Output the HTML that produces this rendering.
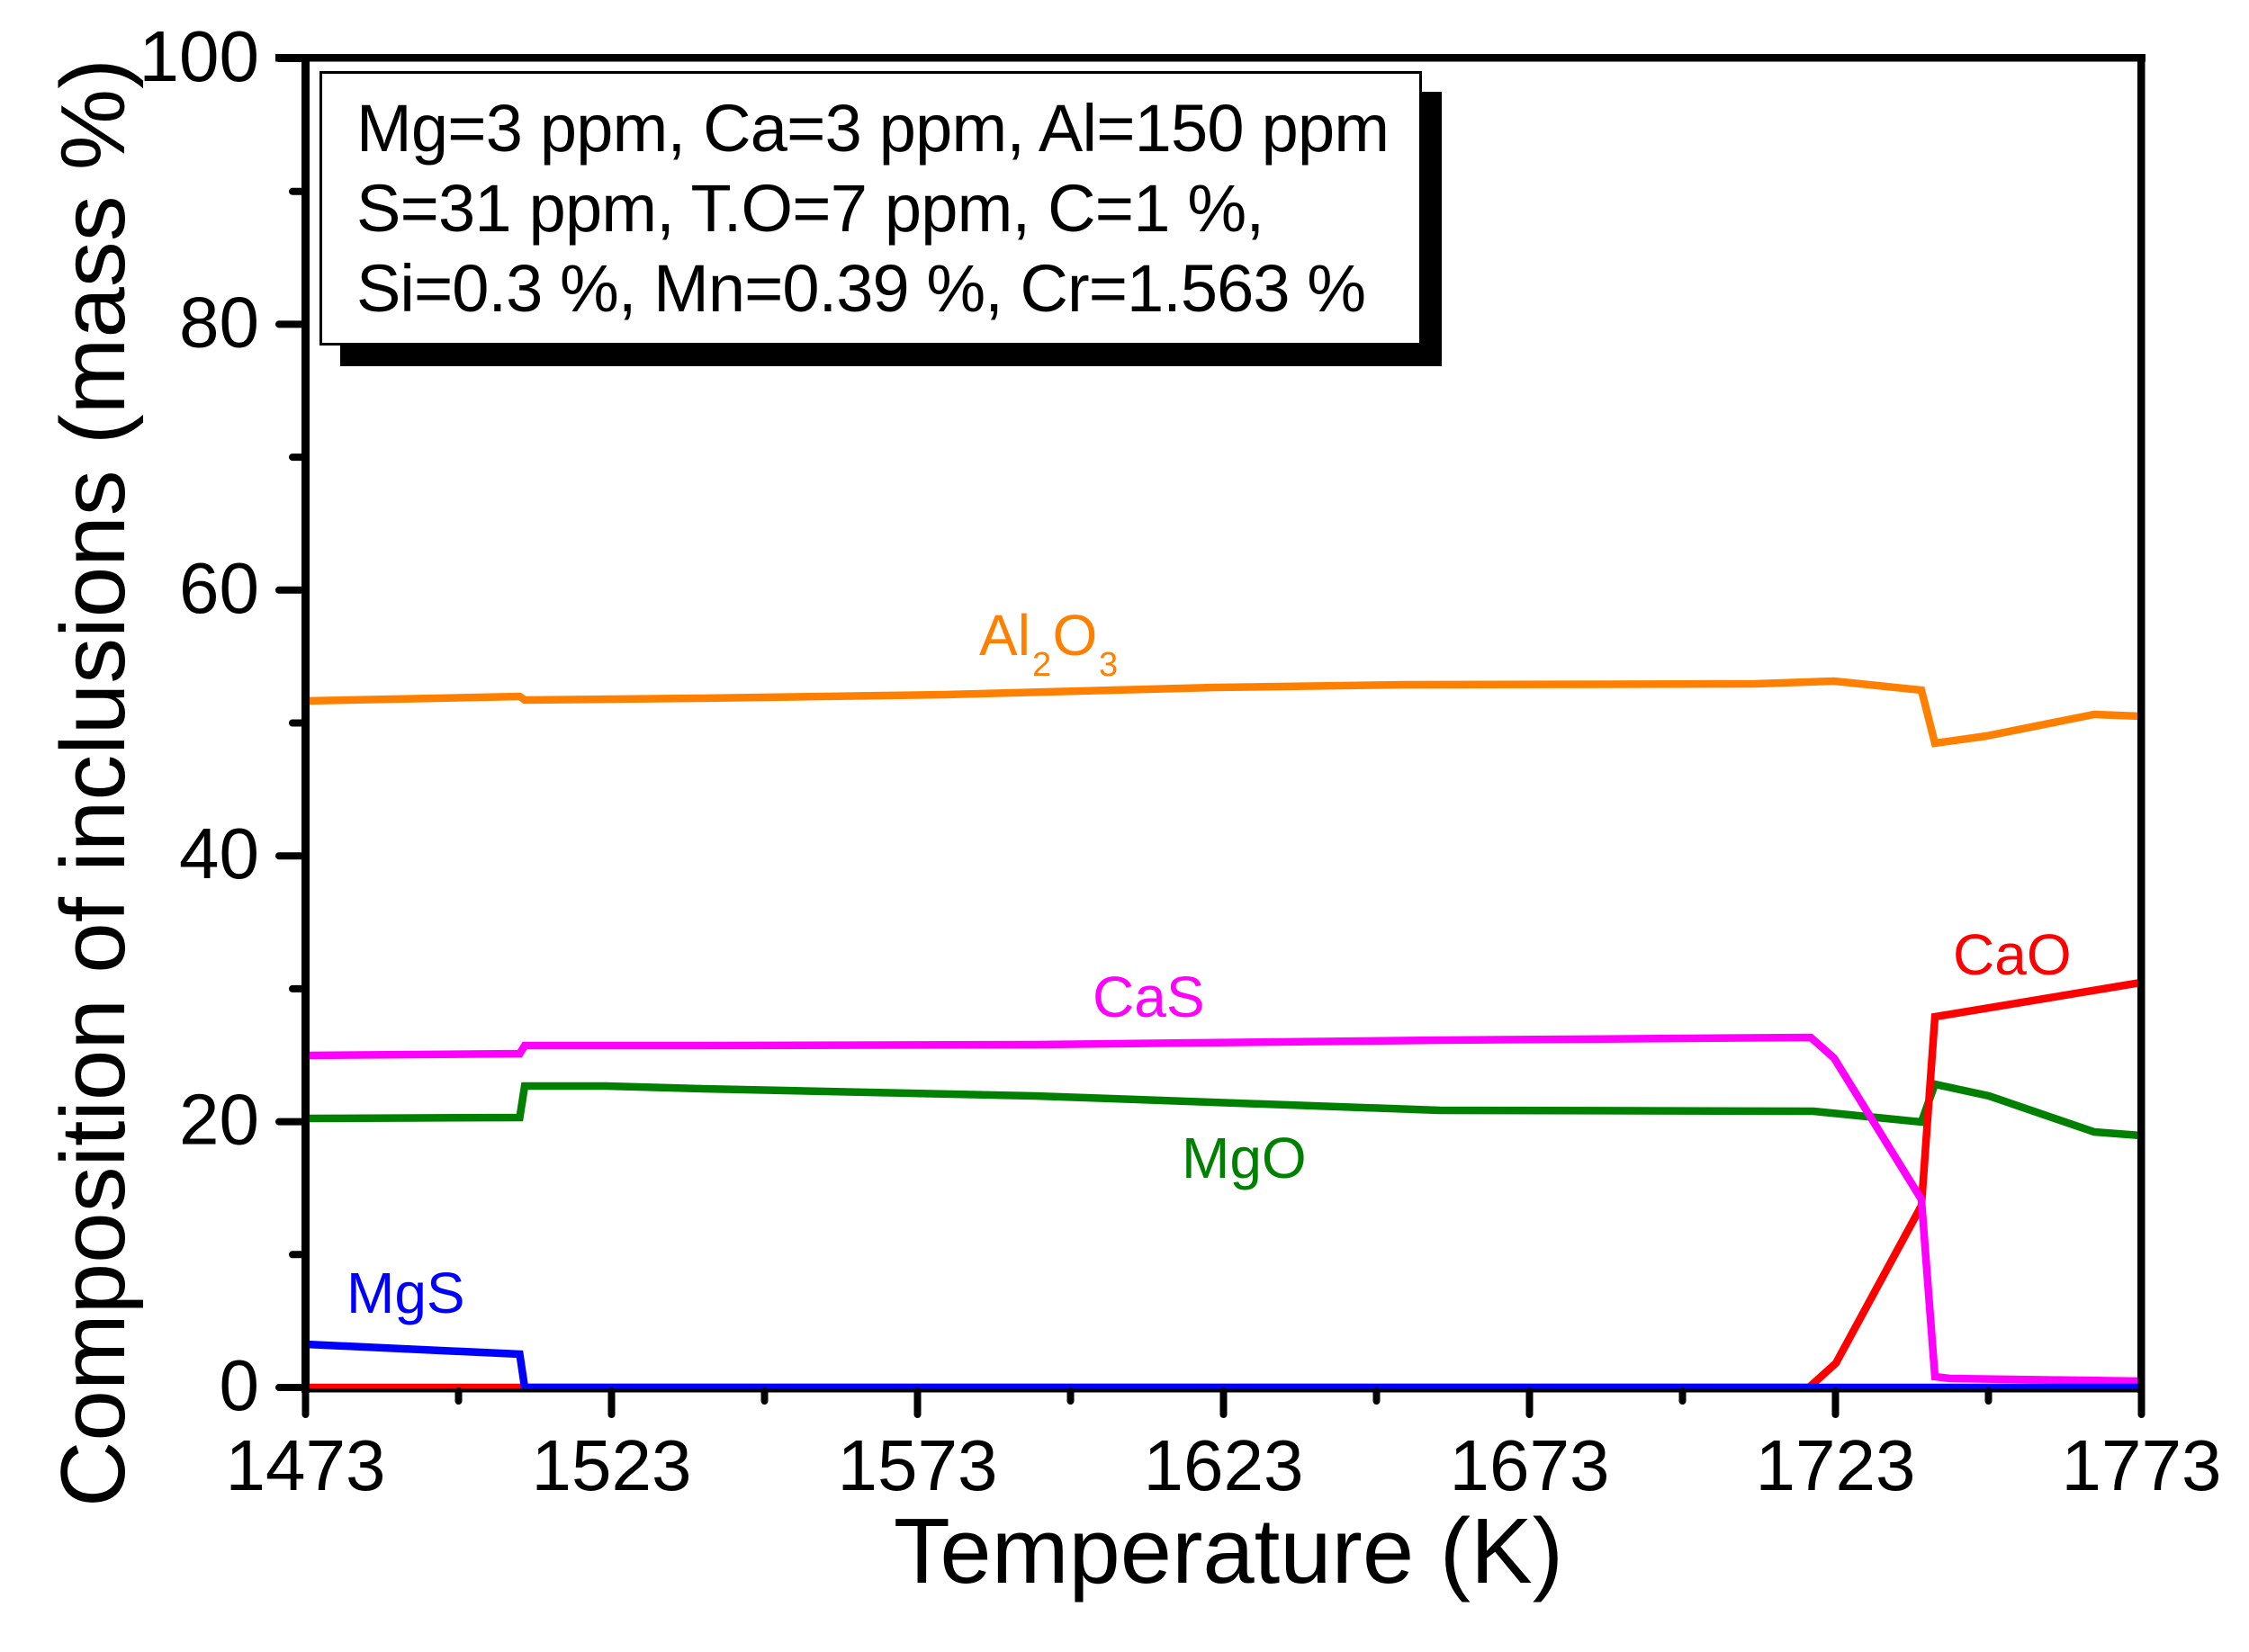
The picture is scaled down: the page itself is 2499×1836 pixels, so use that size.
<!DOCTYPE html>
<html>
<head>
<meta charset="utf-8">
<style>
  html, body { margin: 0; padding: 0; background: #ffffff; }
  svg { display: block; }
  text { font-family: "Liberation Sans", Arial, sans-serif; }
</style>
</head>
<body>
<svg xmlns="http://www.w3.org/2000/svg" width="2499" height="1836" viewBox="0 0 2499 1836">
  <rect x="0" y="0" width="2499" height="1836" fill="#ffffff"/>

  <!-- Legend box with shadow -->
  <rect x="378" y="102" width="1224" height="305" fill="#000000"/>
  <rect x="356.5" y="80.5" width="1222" height="302" fill="#ffffff" stroke="#000000" stroke-width="3"/>
  <g font-size="74" fill="#000000">
    <text x="396" y="168" textLength="1148" lengthAdjust="spacing">Mg=3 ppm, Ca=3 ppm, Al=150 ppm</text>
    <text x="396" y="257" textLength="1009" lengthAdjust="spacing">S=31 ppm, T.O=7 ppm, C=1 %,</text>
    <text x="396" y="346" textLength="1122" lengthAdjust="spacing">Si=0.3 %, Mn=0.39 %, Cr=1.563 %</text>
  </g>

  <!-- Data series -->
  <g fill="none" stroke-width="8.5" stroke-linejoin="miter" stroke-miterlimit="4">
    <!-- Al2O3 -->
    <polyline stroke="#FF8000" points="339.5,779 577.5,774 583,778 780,776 1050,772 1350,764 1562,761 1950,760 2038,757 2135,767 2150,826 2207,818 2327,794 2379,796"/>
    <!-- MgO -->
    <polyline stroke="#008000" points="339.5,1243 577.5,1242 583,1207 673,1207 780,1210 1150,1218 1600,1234 2015,1235 2135,1247 2150,1205 2210,1218 2327,1258 2379,1262"/>
    <!-- CaO -->
    <polyline stroke="#FF0000" points="339.5,1542 2010,1542 2040,1515 2135,1340 2150,1130 2379,1092"/>
    <!-- CaS -->
    <polyline stroke="#FF00FF" points="339.5,1173 577.5,1171 583,1162 780,1162 1150,1161 1600,1156 2012,1153 2038,1176 2135,1333 2150,1530 2167,1532 2379,1535"/>
    <!-- MgS -->
    <polyline stroke="#0000FF" points="339.5,1494 577.5,1505 583,1542 2379,1542"/>
  </g>

  <!-- Axes frame -->
  <g fill="#000000">
    <rect x="306" y="60" width="2078" height="8.5"/>
    <rect x="335" y="60" width="9" height="1488"/>
    <rect x="2375" y="60" width="8.5" height="1488"/>
    <rect x="335" y="1543" width="2048.5" height="4.5"/>
  </g>

  <!-- Y ticks -->
  <g stroke="#000000" stroke-width="8" stroke-linecap="round">
    <line x1="310" y1="1542" x2="338" y2="1542"/>
    <line x1="325" y1="1394.3" x2="338" y2="1394.3"/>
    <line x1="310" y1="1246.6" x2="338" y2="1246.6"/>
    <line x1="325" y1="1098.9" x2="338" y2="1098.9"/>
    <line x1="310" y1="951.2" x2="338" y2="951.2"/>
    <line x1="325" y1="803.5" x2="338" y2="803.5"/>
    <line x1="310" y1="655.8" x2="338" y2="655.8"/>
    <line x1="325" y1="508.1" x2="338" y2="508.1"/>
    <line x1="310" y1="360.4" x2="338" y2="360.4"/>
    <line x1="325" y1="212.7" x2="338" y2="212.7"/>
    <line x1="310" y1="65" x2="338" y2="65"/>
  </g>

  <!-- X ticks -->
  <g stroke="#000000" stroke-width="8" stroke-linecap="round">
    <line x1="339.5" y1="1546" x2="339.5" y2="1572"/>
    <line x1="509.5" y1="1546" x2="509.5" y2="1557"/>
    <line x1="679.5" y1="1546" x2="679.5" y2="1572"/>
    <line x1="849.5" y1="1546" x2="849.5" y2="1557"/>
    <line x1="1019.5" y1="1546" x2="1019.5" y2="1572"/>
    <line x1="1189.5" y1="1546" x2="1189.5" y2="1557"/>
    <line x1="1359.5" y1="1546" x2="1359.5" y2="1572"/>
    <line x1="1529.5" y1="1546" x2="1529.5" y2="1557"/>
    <line x1="1699.5" y1="1546" x2="1699.5" y2="1572"/>
    <line x1="1869.5" y1="1546" x2="1869.5" y2="1557"/>
    <line x1="2039.5" y1="1546" x2="2039.5" y2="1572"/>
    <line x1="2209.5" y1="1546" x2="2209.5" y2="1557"/>
    <line x1="2379.5" y1="1546" x2="2379.5" y2="1572"/>
  </g>

  <!-- Y tick labels -->
  <g font-size="80" fill="#000000" text-anchor="end">
    <text x="288" y="1567">0</text>
    <text x="288" y="1271.6">20</text>
    <text x="288" y="976.2">40</text>
    <text x="288" y="680.8">60</text>
    <text x="288" y="385.4">80</text>
    <text x="288" y="90">100</text>
  </g>

  <!-- X tick labels -->
  <g font-size="80" fill="#000000" text-anchor="middle">
    <text x="339.5" y="1656">1473</text>
    <text x="679.5" y="1656">1523</text>
    <text x="1019.5" y="1656">1573</text>
    <text x="1359.5" y="1656">1623</text>
    <text x="1699.5" y="1656">1673</text>
    <text x="2039.5" y="1656">1723</text>
    <text x="2379.5" y="1656">1773</text>
  </g>

  <!-- Axis titles -->
  <text x="1365" y="1759" font-size="103" text-anchor="middle" fill="#000000">Temperature (K)</text>
  <text transform="translate(138,870) rotate(-90)" x="0" y="0" font-size="101" text-anchor="middle" textLength="1610" lengthAdjust="spacingAndGlyphs" fill="#000000">Composition of inclusions (mass %)</text>

  <!-- Series labels -->
  <g font-size="64">
    <text x="1088" y="728" fill="#FF8000">Al</text>
    <text x="1147" y="751" font-size="38" fill="#FF8000">2</text>
    <text x="1169.5" y="728" fill="#FF8000">O</text>
    <text x="1221" y="751" font-size="38" fill="#FF8000">3</text>
    <text x="1214" y="1130" fill="#FF00FF">CaS</text>
    <text x="1313" y="1309" fill="#008000">MgO</text>
    <text x="2170" y="1083" fill="#FF0000">CaO</text>
    <text x="385" y="1459" fill="#0000FF">MgS</text>
  </g>
</svg>
</body>
</html>
